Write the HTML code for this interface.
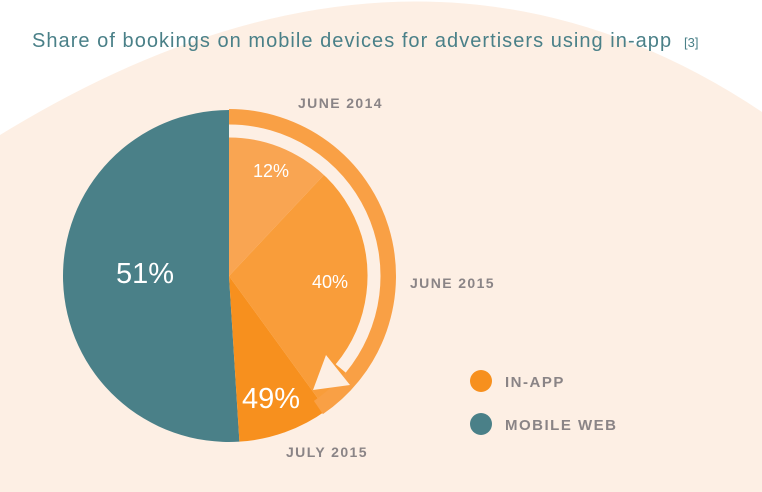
<!DOCTYPE html>
<html><head><meta charset="utf-8"><style>
html,body{margin:0;padding:0;width:762px;height:492px;overflow:hidden;background:#fff;}
svg{display:block;overflow:hidden;font-family:"Liberation Sans",sans-serif;}
</style></head><body>
<svg width="762" height="492" viewBox="0 0 762 492">
<path d="M0,135 Q415,-120 762,112 L762,492 L0,492 Z" fill="#FDEFE4"/>
<text x="32" y="47" font-size="20" letter-spacing="0.9" fill="#4A8088" textLength="640">Share of bookings on mobile devices for advertisers using in-app</text>
<text x="684" y="47" font-size="13" fill="#4A8088">[3]</text>
<g id="pie"></g>
<text x="298" y="108" font-size="14" font-weight="bold" letter-spacing="1.4" fill="#8A8486">JUNE 2014</text>
<text x="410" y="288" font-size="14" font-weight="bold" letter-spacing="1.4" fill="#8A8486">JUNE 2015</text>
<text x="286" y="457" font-size="14" font-weight="bold" letter-spacing="1.4" fill="#8A8486">JULY 2015</text>
<circle cx="481" cy="381" r="11" fill="#F7901E"/>
<text x="505" y="387" font-size="15" font-weight="bold" letter-spacing="1.5" fill="#8A8486">IN-APP</text>
<circle cx="481" cy="424" r="11" fill="#4A8088"/>
<text x="505" y="430" font-size="15" font-weight="bold" letter-spacing="1.5" fill="#8A8486">MOBILE WEB</text>
</svg>
<script>
const categories=["June 2014","June 2015","July 2015"];
const inAppValues=[12,40,49];
const mobileWebValue=[51];
const ns="http://www.w3.org/2000/svg";
const g=document.getElementById('pie');
const cx=229,cy=276,R=166;
function pt(frac,r){const a=frac*2*Math.PI;return [cx+r*Math.sin(a),cy-r*Math.cos(a)];}
function wedge(f0,f1,fill,name){
 const p0=pt(f0,R),p1=pt(f1,R);const large=(f1-f0)>0.5?1:0;
 const p=document.createElementNS(ns,'path');
 p.setAttribute('d',`M${cx},${cy}L${p0[0]},${p0[1]}A${R},${R} 0 ${large} 1 ${p1[0]},${p1[1]}Z`);
 p.setAttribute('fill',fill);
 
 
 g.appendChild(p);}
const mw=mobileWebValue[0]/100;
wedge(-mw,0,'#4A8088','slice-mobile-web');
const fills=['#F9A552','#F99D3A','#F7901E'];
let prev=0;
inAppValues.forEach((v,i)=>{wedge(prev,v/100,fills[i],'slice-in-app-'+i);prev=v/100;});
const ring=document.createElementNS(ns,'path');
const e=inAppValues[1]/100+0.005;
let a=pt(0,159),b=pt(e,159);
ring.setAttribute('d',`M${a[0]},${a[1]}A159,159 0 0 1 ${b[0]},${b[1]}`);
ring.setAttribute('stroke','#F9A045');ring.setAttribute('stroke-width','16');ring.setAttribute('fill','none');


g.appendChild(ring);
const arr=document.createElementNS(ns,'path');
a=pt(0,145);b=pt(0.36,145);
arr.setAttribute('d',`M${a[0]},${a[1]}A145,145 0 0 1 ${b[0]},${b[1]}`);
arr.setAttribute('stroke','#FDEFE4');arr.setAttribute('stroke-width','13');arr.setAttribute('fill','none');


g.appendChild(arr);
const head=document.createElementNS(ns,'polygon');
head.setAttribute('points','326,355 350,385 313,390');
head.setAttribute('fill','#FDEFE4');


g.appendChild(head);
function lab(x,y,s,t,n){const el=document.createElementNS(ns,'text');el.setAttribute('x',x);el.setAttribute('y',y);el.setAttribute('font-size',s);el.setAttribute('fill','#fff');el.setAttribute('text-anchor','middle');el.textContent=t;


g.appendChild(el);}
lab(271,177,18,inAppValues[0]+'%','label-12');
lab(330,288,18,inAppValues[1]+'%','label-40');
lab(271,408,29,inAppValues[2]+'%','label-49');
lab(145,283,29,mobileWebValue[0]+'%','label-51');
</script>
</body></html>
